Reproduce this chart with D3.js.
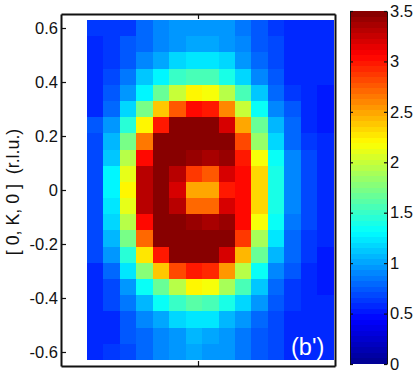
<!DOCTYPE html>
<html>
<head>
<meta charset="utf-8">
<script src="https://cdn.jsdelivr.net/npm/d3@7/dist/d3.min.js"></script>
<style>
  body { margin: 0; background: #fff; }
  text { font-family: "Liberation Sans", Arial, sans-serif; fill: #111; }
</style>
</head>
<body>
<svg id="chart" width="415" height="378"></svg>
<script>
// H and K are cell centres, intensity rows run from K = 0.6 down to K = -0.6
var hValues = [-0.375, -0.315, -0.255, -0.195, -0.135, -0.075, -0.015, 0.045, 0.105, 0.165, 0.225, 0.285, 0.345, 0.405, 0.465];
var kValues = [0.6, 0.54, 0.48, 0.42, 0.36, 0.3, 0.24, 0.18, 0.12, 0.06, 0, -0.06, -0.12, -0.18, -0.24, -0.3, -0.36, -0.42, -0.48, -0.54, -0.6];
var intensity = [
  [0.65, 0.65, 0.65, 0.78, 0.88, 0.95, 0.97, 0.97, 0.95, 0.87, 0.75, 0.65, 0.60, 0.55, 0.55],
  [0.60, 0.62, 0.72, 0.78, 0.90, 0.95, 1.03, 1.03, 0.98, 0.88, 0.75, 0.66, 0.60, 0.55, 0.55],
  [0.60, 0.62, 0.72, 0.88, 1.02, 1.15, 1.22, 1.22, 1.15, 0.98, 0.80, 0.66, 0.60, 0.55, 0.55],
  [0.60, 0.66, 0.85, 1.10, 1.31, 1.48, 1.55, 1.55, 1.42, 1.15, 0.88, 0.72, 0.60, 0.55, 0.55],
  [0.60, 0.72, 0.98, 1.31, 1.65, 1.98, 2.20, 2.15, 1.95, 1.55, 1.10, 0.80, 0.62, 0.55, 0.50],
  [0.60, 0.78, 1.20, 1.70, 2.40, 2.75, 3.05, 3.00, 2.60, 2.00, 1.35, 0.90, 0.72, 0.58, 0.50],
  [0.72, 0.95, 1.45, 2.20, 3.00, 3.48, 3.50, 3.50, 3.22, 2.48, 1.65, 1.06, 0.80, 0.60, 0.50],
  [0.68, 1.05, 1.70, 2.65, 3.50, 3.50, 3.50, 3.50, 3.50, 2.80, 1.85, 1.20, 0.82, 0.65, 0.58],
  [0.70, 1.12, 1.95, 3.05, 3.50, 3.50, 3.44, 3.35, 3.44, 3.00, 2.15, 1.32, 0.88, 0.68, 0.60],
  [0.70, 1.28, 2.10, 3.30, 3.50, 3.30, 2.85, 2.75, 3.20, 3.05, 2.30, 1.38, 0.88, 0.68, 0.60],
  [0.70, 1.28, 2.20, 3.30, 3.50, 3.20, 2.50, 2.50, 3.00, 3.05, 2.35, 1.42, 0.88, 0.68, 0.60],
  [0.70, 1.25, 2.12, 3.30, 3.50, 3.30, 2.72, 2.70, 3.20, 3.05, 2.30, 1.38, 0.88, 0.68, 0.60],
  [0.70, 1.15, 1.95, 3.05, 3.50, 3.50, 3.44, 3.35, 3.44, 3.05, 2.15, 1.32, 0.85, 0.68, 0.60],
  [0.68, 1.05, 1.70, 2.70, 3.50, 3.50, 3.50, 3.50, 3.50, 2.85, 1.90, 1.22, 0.82, 0.65, 0.58],
  [0.70, 0.95, 1.45, 2.25, 3.00, 3.48, 3.50, 3.46, 3.20, 2.45, 1.65, 1.05, 0.80, 0.62, 0.52],
  [0.60, 0.78, 1.22, 1.75, 2.40, 2.80, 3.00, 2.90, 2.55, 1.95, 1.32, 0.92, 0.72, 0.58, 0.50],
  [0.60, 0.70, 0.98, 1.35, 1.65, 1.95, 2.20, 2.15, 1.90, 1.55, 1.12, 0.82, 0.65, 0.55, 0.50],
  [0.60, 0.66, 0.85, 1.08, 1.32, 1.48, 1.60, 1.55, 1.42, 1.20, 0.95, 0.72, 0.62, 0.55, 0.55],
  [0.60, 0.60, 0.75, 0.88, 1.00, 1.15, 1.25, 1.22, 1.08, 0.95, 0.78, 0.68, 0.58, 0.55, 0.55],
  [0.60, 0.60, 0.72, 0.78, 0.92, 0.98, 1.05, 1.03, 0.95, 0.85, 0.75, 0.68, 0.58, 0.55, 0.55],
  [0.60, 0.62, 0.66, 0.78, 0.92, 0.96, 1.00, 0.97, 0.95, 0.85, 0.75, 0.66, 0.58, 0.55, 0.55]
];
var kTicks = [0.6, 0.4, 0.2, 0, -0.2, -0.4, -0.6];
var hTicks = [0];
var colorTicks = [0, 0.5, 1, 1.5, 2, 2.5, 3, 3.5];
var colorMax = 3.5;
var colorLevels = 64;

var plot = { left: 61, right: 335, top: 14, bottom: 366 };
var bar = { left: 350, right: 387, top: 11, bottom: 364 };

var svg = d3.select("#chart");

var x = d3.scaleLinear().domain([-0.5, 0.5]).range([plot.left, plot.right]);
var y = d3.scaleLinear().domain([-0.6519, 0.6519]).range([plot.bottom, plot.top]);
var cellW = x(0.06) - x(0);
var cellH = y(0) - y(0.06);

// matlab jet, cut into 64 flat steps
var jet = d3.scaleLinear()
  .domain([0, 0.125, 0.375, 0.625, 0.875, 1])
  .range(["#00008f", "#0000ff", "#00ffff", "#ffff00", "#ff0000", "#800000"]);
function levelColor(v) {
  var level = Math.min(colorLevels - 1, Math.floor(v / colorMax * colorLevels));
  return jet((level + 0.5) / colorLevels);
}

var cells = [];
kValues.forEach(function(k, r) {
  hValues.forEach(function(h, c) {
    cells.push({ h: h, k: k, v: intensity[r][c] });
  });
});

svg.append("g").selectAll("rect")
  .data(cells)
  .enter()
  .append("rect")
  .attr("x", function(d) { return x(d.h) - cellW / 2; })
  .attr("y", function(d) { return y(d.k) - cellH / 2; })
  .attr("width", cellW)
  .attr("height", cellH)
  .attr("shape-rendering", "crispEdges")
  .style("fill", function(d) { return levelColor(d.v); });

function styleAxis(g, width) {
  g.selectAll("path").attr("stroke", "#111").attr("stroke-width", width);
  g.selectAll("line").attr("stroke", "#111").attr("stroke-width", 1.2);
  g.selectAll("text").style("font-size", "16.5px").style("fill", "#111");
}

// frame with inward ticks
svg.append("g")
  .attr("transform", "translate(" + plot.left + ",0)")
  .call(d3.axisLeft(y).tickValues(kTicks).tickSize(-5).tickSizeOuter(0).tickPadding(3).tickFormat(String))
  .call(styleAxis, 2);
svg.append("g")
  .attr("transform", "translate(" + plot.right + ",0)")
  .call(d3.axisRight(y).tickValues([]).tickSize(0))
  .call(styleAxis, 2);
svg.append("g")
  .attr("transform", "translate(0," + plot.bottom + ")")
  .call(d3.axisBottom(x).tickValues(hTicks).tickSize(-5).tickSizeOuter(0).tickFormat(""))
  .call(styleAxis, 2);
svg.append("g")
  .attr("transform", "translate(0," + plot.top + ")")
  .call(d3.axisTop(x).tickValues(hTicks).tickSize(-5).tickSizeOuter(0).tickFormat(""))
  .call(styleAxis, 2);

svg.append("text")
  .attr("transform", "translate(19,192) rotate(-90)")
  .attr("text-anchor", "middle")
  .style("font-size", "17.8px")
  .style("white-space", "pre")
  .text("[ 0, K, 0 ]  (r.l.u.)");

svg.append("text")
  .attr("x", 291)
  .attr("y", 355)
  .style("font-size", "23.5px")
  .style("fill", "#fff")
  .text("(b')");

// colorbar
var barScale = d3.scaleLinear().domain([0, colorMax]).range([bar.bottom, bar.top]);
var barBand = d3.scaleBand().domain(d3.range(colorLevels)).range([bar.bottom, bar.top]);

svg.append("g").selectAll("rect")
  .data(d3.range(colorLevels))
  .enter()
  .append("rect")
  .attr("x", bar.left)
  .attr("y", function(d) { return barBand(d); })
  .attr("width", bar.right - bar.left)
  .attr("height", barBand.bandwidth())
  .attr("shape-rendering", "crispEdges")
  .style("fill", function(d) { return jet((d + 0.5) / colorLevels); });

svg.append("g")
  .attr("transform", "translate(" + bar.right + ",0)")
  .call(d3.axisRight(barScale).tickValues(colorTicks).tickSize(-3).tickSizeOuter(0).tickPadding(3).tickFormat(String))
  .call(styleAxis, 1);
svg.append("g")
  .attr("transform", "translate(" + bar.left + ",0)")
  .call(d3.axisLeft(barScale).tickValues(colorTicks).tickSize(-3).tickSizeOuter(0).tickFormat(""))
  .call(styleAxis, 1);
</script>
</body>
</html>
